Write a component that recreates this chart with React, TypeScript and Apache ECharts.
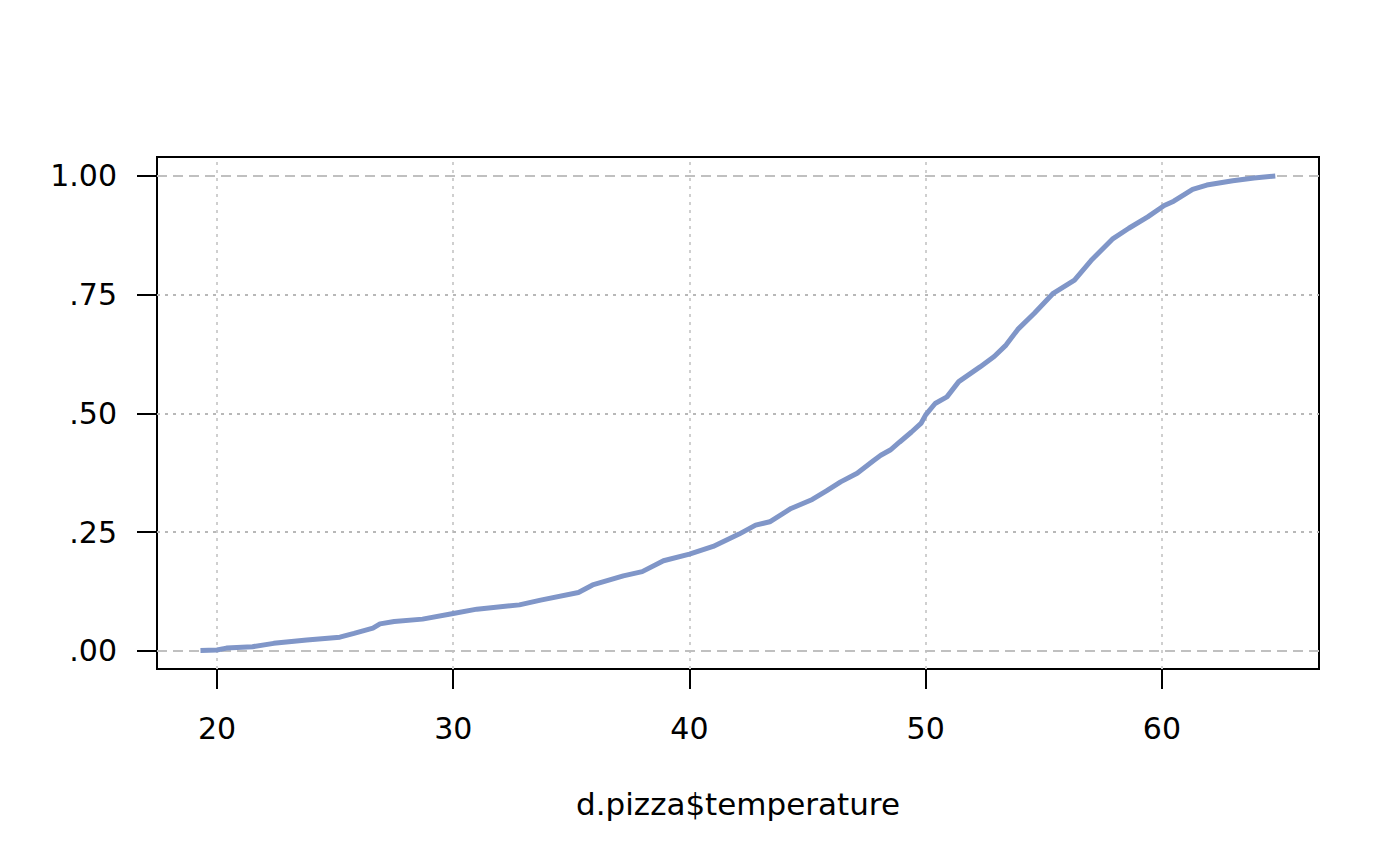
import { useEffect, useRef } from "react";
import * as echarts from "echarts";
import { ECharts } from "echarts";

const temperature = [
  19.3, 20.0, 20.4, 21.5, 22.4, 23.8, 25.2, 25.8, 26.6, 26.9, 27.5, 28.7, 30.0,
  31.0, 32.8, 33.7, 35.3, 35.9, 37.2, 38.0, 38.9, 40.0, 41.0, 42.1, 42.8, 43.4,
  44.3, 45.2, 45.8, 46.4, 47.1, 47.8, 48.1, 48.5, 48.9, 49.4, 49.8, 50.0, 50.4,
  50.9, 51.4, 52.3, 52.9, 53.4, 53.9, 54.6, 55.4, 56.3, 57.0, 57.9, 58.6, 59.4,
  60.1, 60.5, 61.3, 61.9, 63.0, 63.9, 64.8,
];
const cumProb = [
  0.001, 0.002, 0.006, 0.009, 0.016, 0.023, 0.029, 0.037, 0.048, 0.057, 0.062,
  0.067, 0.079, 0.088, 0.097, 0.107, 0.123, 0.139, 0.158, 0.167, 0.19, 0.204,
  0.22, 0.246, 0.265, 0.272, 0.3, 0.319, 0.337, 0.356, 0.374, 0.401, 0.412,
  0.423, 0.44, 0.461, 0.479, 0.497, 0.521, 0.535, 0.567, 0.598, 0.62, 0.644,
  0.677, 0.711, 0.753, 0.781, 0.822, 0.867, 0.89, 0.914, 0.938, 0.947, 0.972,
  0.981, 0.99, 0.996, 1.0,
];

const xTicks = [20, 30, 40, 50, 60];
const yTicks = [0, 0.25, 0.5, 0.75, 1];
const yTickLabels = [".00", ".25", ".50", ".75", "1.00"];

const FONT = "DejaVu Sans";

const App = () => {
  const chartRef = useRef<HTMLDivElement>(null);

  useEffect(() => {
    document.body.style.margin = "0";
    let myChart: ECharts | null = null;
    if (chartRef.current) {
      myChart = echarts.init(chartRef.current, undefined, { renderer: "svg" });

      const dotted = (color: string) => ({
        color,
        width: 2,
        type: [3, 5] as number[],
      });
      const dashed = { color: "#c0c0c0", width: 2, type: [10, 6] as number[] };

      const gridLines = [
        ...xTicks.map((v) => ({ xAxis: v, lineStyle: dotted("#cfcfcf") })),
        ...yTicks.map((v) => ({
          yAxis: v,
          lineStyle: v === 0 || v === 1 ? dashed : dotted("#b8b8b8"),
        })),
      ];

      myChart.setOption({
        animation: false,
        backgroundColor: "#ffffff",
        textStyle: { fontFamily: FONT },
        grid: {
          left: 157,
          right: 81,
          top: 157,
          bottom: 197,
          show: true,
          borderColor: "#000000",
          borderWidth: 2,
          backgroundColor: "transparent",
        },
        xAxis: {
          type: "value",
          min: 17.46,
          max: 66.65,
          name: "d.pizza$temperature",
          nameLocation: "middle",
          nameGap: 119,
          nameTextStyle: { fontFamily: FONT, fontSize: 31, color: "#000" },
          axisLine: { show: false, onZero: false },
          axisTick: {
            show: true,
            customValues: xTicks,
            length: 20,
            lineStyle: { color: "#000", width: 2 },
          },
          axisLabel: {
            customValues: xTicks,
            margin: 44,
            fontFamily: FONT,
            fontSize: 30,
            color: "#000",
          },
          splitLine: { show: false },
        },
        yAxis: {
          type: "value",
          min: -0.038,
          max: 1.04,
          axisLine: { show: false, onZero: false },
          axisTick: {
            show: true,
            customValues: yTicks,
            length: 20,
            lineStyle: { color: "#000", width: 2 },
          },
          axisLabel: {
            customValues: yTicks,
            margin: 40,
            fontFamily: FONT,
            fontSize: 30,
            color: "#000",
            formatter: (v: number) => {
              const i = yTicks.findIndex((t) => Math.abs(t - v) < 1e-6);
              return i >= 0 ? yTickLabels[i] : "";
            },
          },
          splitLine: { show: false },
        },
        series: [
          {
            type: "line",
            z: 3,
            data: temperature.map((t, i) => [t, cumProb[i]]),
            showSymbol: false,
            lineStyle: { color: "#8096c8", width: 5 },
            markLine: {
              z: 1,
              silent: true,
              symbol: "none",
              label: { show: false },
              data: gridLines,
            },
          },
        ],
      });
    }

    return () => {
      myChart && myChart.dispose();
    };
  }, []);

  return <div ref={chartRef} style={{ width: "1400px", height: "866px" }}></div>;
};

export default App;
